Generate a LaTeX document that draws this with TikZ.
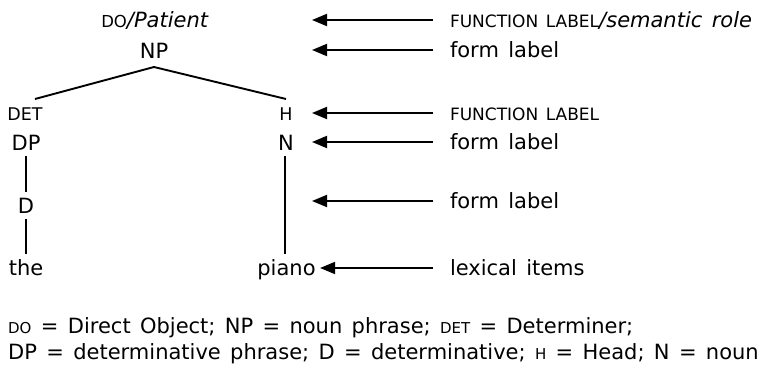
\documentclass[tikz,border=0pt]{standalone}
\usepackage{fontspec}
\setmainfont{DejaVu Sans}[ItalicFont={DejaVu Sans Oblique},WordSpace=1.4]
\usetikzlibrary{arrows.meta}

% font size in pt, and fake small capitals (smaller upright capitals)
\newcommand\fsz[1]{\fontsize{#1}{#1}\selectfont}
\newcommand\smallcap[2]{{\fsz{#1}#2}}

\begin{document}
\begin{tikzpicture}[x=1pt,y=-1pt,
  every node/.style={inner sep=0pt,font=\fsz{21}},
  word/.style={anchor=base,text height=15pt,text depth=0pt,outer ysep=6pt},
  lab/.style={anchor=base west,text height=14pt,text depth=0pt,outer xsep=17pt},
  foot/.style={anchor=base west},
  branch/.style={line width=1.9pt},
  pointer/.style={line width=1.9pt,-{Triangle[length=15pt,width=12pt]}}]
\useasboundingbox (0,0) rectangle (761,375);

% tree
\node[word] (fn)    at (155,27)  {\smallcap{16.5}{DO}\textit{/Patient}};
\node[word] (np)    at (154,58)  {NP};
\node[word] (det)   at (25,120)  {\smallcap{17.5}{DET}};
\node[word] (h)     at (286,120) {\smallcap{17.5}{H}};
\node[word] (dp)    at (26,150)  {DP};
\node[word] (n)     at (286,150) {N};
\node[word] (d)     at (26,213)  {D};
\node[word] (the)   at (26,275)  {the};
\node[word,outer xsep=4.5pt] (piano) at (286.5,275) {piano};

\draw[branch] ([yshift=-3pt]np.south) -- ([xshift=10pt]det.north);
\draw[branch] ([yshift=-3pt]np.south) -- (h.north);
\draw[branch] (dp.south) -- (d.north);
\draw[branch] (d.south) -- (the.north);
\draw[branch] ([xshift=-1pt]n.south) -- ([xshift=-1pt]n.south |- piano.north);

% explanatory labels on the right
\node[lab] (l1) at (433,27)  {\smallcap{17}{FUNCTION LABEL}\textit{/semantic role}};
\node[lab] (l2) at (433,57)  {form label};
\node[lab] (l3) at (433,120) {\smallcap{17}{FUNCTION LABEL}};
\node[lab] (l4) at (433,149) {form label};
\node[lab] (l5) at (433,208) {form label};
\node[lab] (l6) at (433,275) {lexical items};

\coordinate (tipx) at (312,0);
\draw[pointer] (l1.west) -- (l1.west -| tipx);
\draw[pointer] (l2.west) -- (l2.west -| tipx);
\draw[pointer] (l3.west) -- (l3.west -| tipx);
\draw[pointer] (l4.west) -- (l4.west -| tipx);
\draw[pointer] (l5.west) -- (l5.west -| tipx);
\draw[pointer] (l6.west) -- (l6.west -| piano.east);

% key to the abbreviations
\node[foot] (k1) at (8,333) {\smallcap{15}{DO} = Direct Object; NP = noun phrase; \smallcap{15}{DET} = Determiner;};
\node[foot] (k2) at (8,359) {DP = determinative phrase; D = determinative; \smallcap{15}{H} = Head; N = noun};
\end{tikzpicture}
\end{document}
